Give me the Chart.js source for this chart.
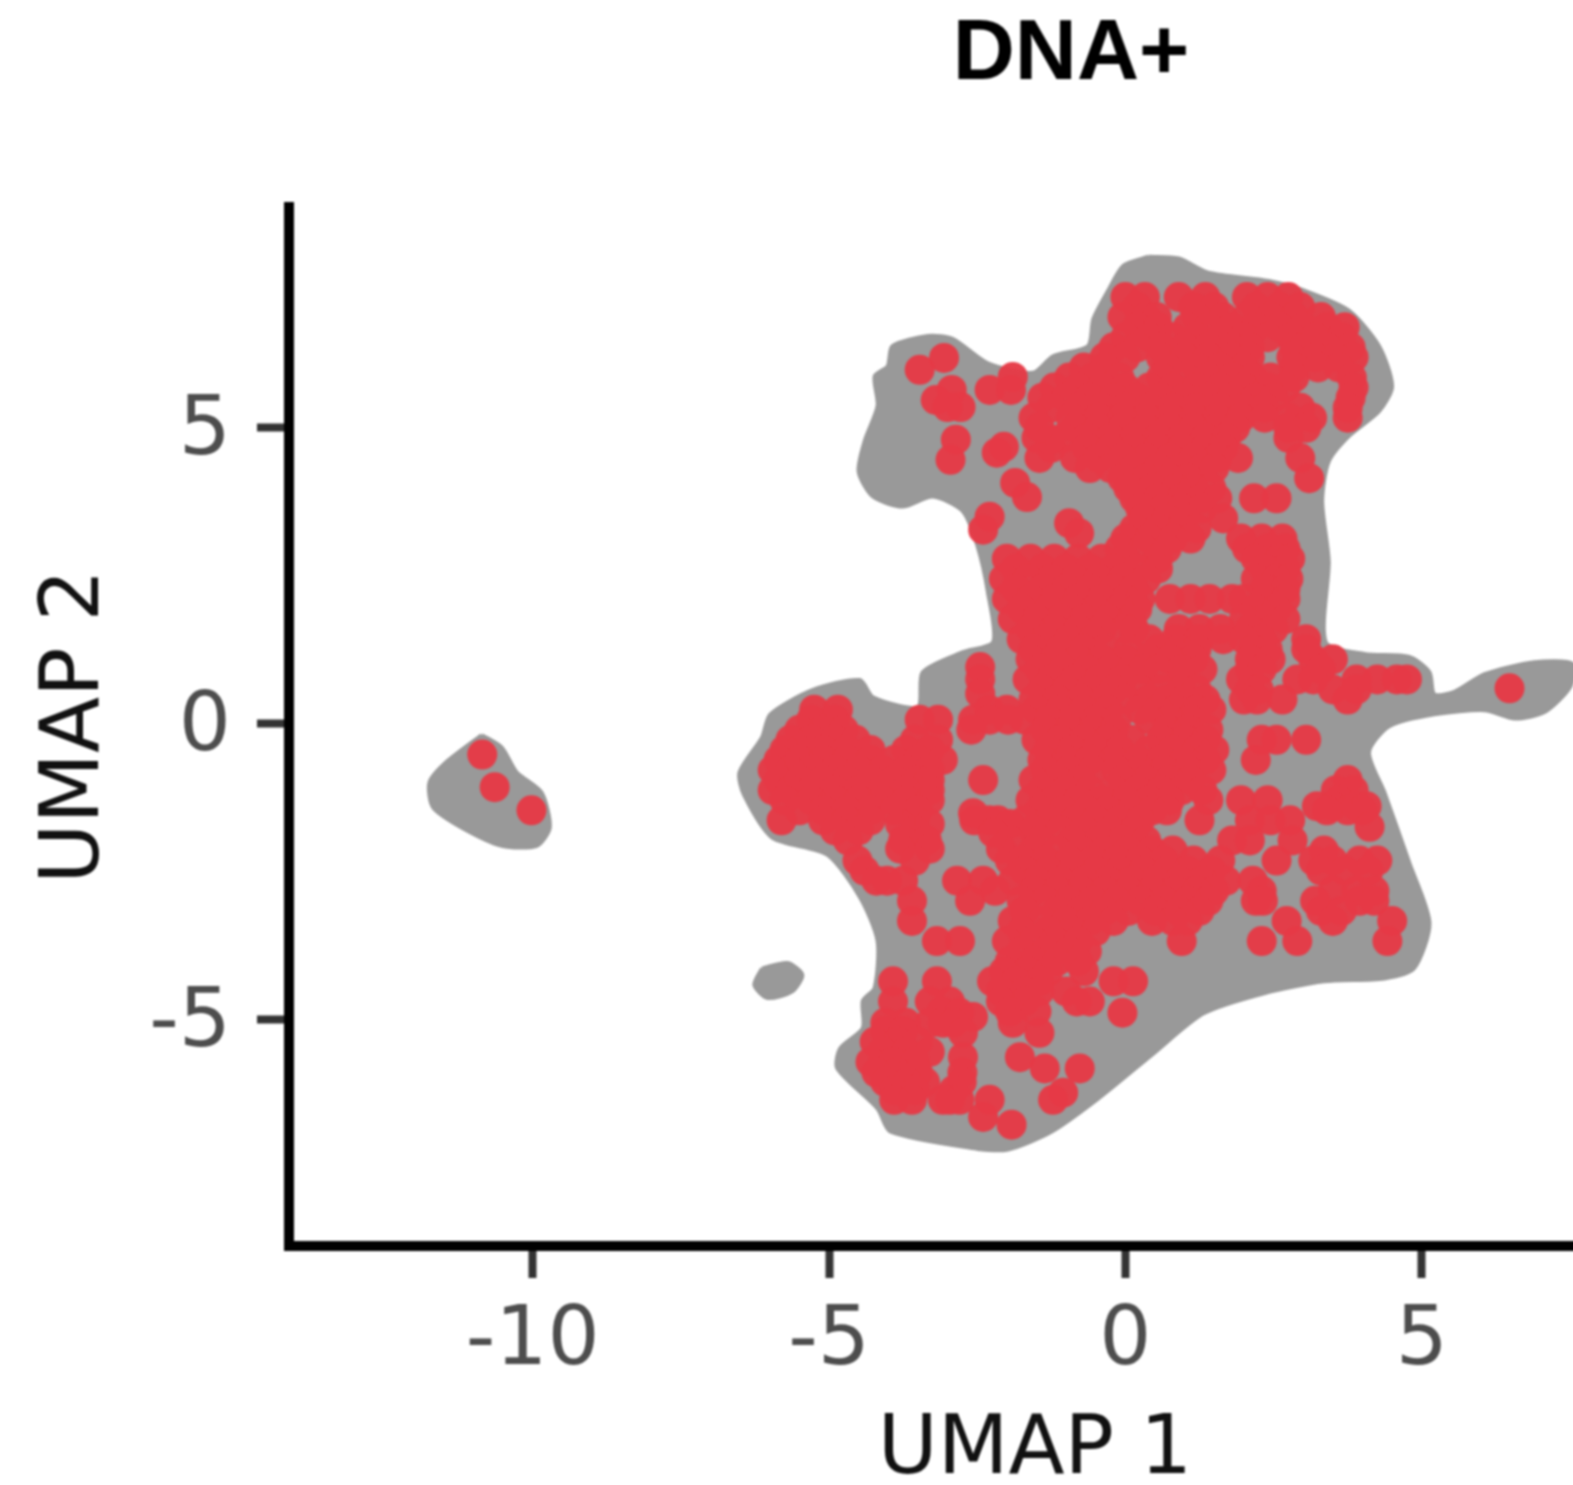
<!DOCTYPE html>
<html>
<head>
<meta charset="utf-8">
<title>DNA+</title>
<script src="https://cdn.jsdelivr.net/npm/chart.js@4"></script>
<style>
  html, body { margin: 0; background: #fff; overflow: hidden; }
  #crop { position: relative; width: 1573px; height: 1485px; overflow: hidden; }
  #chart { display: block; filter: blur(1.1px); }
</style>
</head>
<body>
<div id="crop"><canvas id="chart" width="2142" height="1485"></canvas></div>
<script>
// ─── Ticks ────────────────────────────────────────────────────
const xTicks = [-10, -5, 0, 5];
const yTicks = [-5, 0, 5];

// ─── Grey cells, outline of each island (UMAP units) ──────────
const greyMain = [[.39,7.88],[.9,7.85],[1.4,7.61],[2.42,7.47],[3.01,7.31],[3.77,6.97],[4.28,6.37],[4.5,5.69],[4.28,5.27],[3.77,4.85],[3.43,4.42],[3.32,3.75],[3.43,2.73],[3.38,1.37],[4.03,1.17],[4.79,1.12],[5.13,.86],[5.21,.49],[5.55,.53],[6.06,.83],[6.9,1.03],[7.55,1],[7.5,.61],[7.07,.19],[6.57,.08],[6.06,.22],[5.21,.15],[4.45,-.05],[4.11,-.49],[4.37,-1.17],[4.79,-2.36],[5.13,-3.37],[4.87,-4.14],[4.37,-4.31],[3.35,-4.36],[2.34,-4.56],[1.32,-4.9],[.47,-5.58],[-.46,-6.34],[-1.25,-6.9],[-1.98,-7.2],[-2.49,-7.19],[-3.96,-6.9],[-4.18,-6.51],[-4.86,-5.83],[-4.81,-5.49],[-4.43,-5.15],[-4.43,-4.69],[-4.23,-4.47],[-4.18,-3.68],[-4.47,-2.95],[-5.03,-2.22],[-5.96,-1.93],[-6.43,-1.22],[-6.51,-.83],[-6.13,-.24],[-5.99,.15],[-5.28,.56],[-4.48,.73],[-4.26,.44],[-3.5,.27],[-3.42,.86],[-2.74,1.2],[-2.23,1.37],[-2.32,2.22],[-2.49,2.98],[-2.74,3.58],[-3.25,3.83],[-3.76,3.66],[-4.26,3.83],[-4.5,4.25],[-4.4,4.76],[-4.18,5.36],[-4.23,5.86],[-4.01,6.03],[-3.93,6.37],[-3.33,6.54],[-2.91,6.49],[-2.32,6.08],[-1.56,5.92],[-1.22,6.2],[-.63,6.37],[-.54,6.83],[-.29,7.31],[-.03,7.73]];
const greyIsland = [[-10.86,-.2],[-10.52,-.41],[-10.27,-.83],[-9.85,-1.17],[-9.71,-1.76],[-9.93,-2.07],[-10.52,-2.07],[-11.2,-1.76],[-11.68,-1.42],[-11.74,-1],[-11.46,-.66]];
const greySpot = [[-6.13,-4.14],[-5.7,-4.05],[-5.45,-4.25],[-5.62,-4.53],[-6.04,-4.64],[-6.26,-4.42]];

// ─── DNA+ cells: rows of [y, [x, x, ...]] ─────────────────────
const redNorth = [
  [7.2, [0,.33,.9,1.35,2.05,2.4,2.75]],
  [7.03, [.2,1.15,1.5,2.2,2.6,2.95]],
  [6.86, [-.05,.35,.53,1.2,1.65,2.05,2.45,2.85,3.3]],
  [6.69, [.2,.55,1.05,1.4,1.8,2.2,2.6,3,3.4,3.7]],
  [6.52, [0,.4,.8,1.2,1.6,2,2.4,2.8,3.2,3.65]],
  [6.35, [-.2,.2,.6,1,1.4,1.8,2.1,2.85,3,3.4,3.8]],
  [6.18, [-.35,0,.6,1,1.4,1.8,2.1,2.8,3.2,3.55,3.85]],
  [6.01, [-.7,-.35,.7,1.2,1.6,2,2.85,3.25,3.6]],
  [5.84, [-.95,-.55,-.1,.6,1,1.4,1.8,2.15,2.45,2.85,3.82]],
  [5.67, [-1.2,-.8,-.4,0,.4,.8,1.2,1.6,2,2.4,2.7,3.85]],
  [5.5, [-1.4,-1,-.6,-.2,.2,.6,1,1.4,1.8,2.2,2.5,3.8]],
  [5.33, [-1.25,-.8,-.4,0,.4,.8,1.2,1.6,2,2.35,2.95,3.75]],
  [5.16, [-1.55,-.92,-.45,-.05,.35,.75,1.15,1.55,1.95,2.35,2.75,3.15,3.75]],
  [4.99, [-.85,-.45,-.05,.35,.75,1.15,1.55,1.85,2.75,3.05]],
  [4.82, [-1.5,-1.05,-.65,-.25,.15,.55,.95,1.35,1.7,2.75]],
  [4.65, [-1.25,-.65,-.25,.15,.55,.95,1.35,1.65]],
  [4.48, [-1.45,-.85,-.45,-.05,.35,.75,1.15,1.55,1.9,2.95]],
  [4.31, [-.6,-.25,.15,.55,.95,1.3,1.5]],
  [4.14, [-.05,.35,.75,1.05,3.1]],
  [3.97, [.05,.45,.85,1.15,1.45]],
  [3.8, [.15,.55,.95,1.3,1.55,2.17,2.55]],
  [3.63, [.25,.65,.95,1.3]],
  [3.46, [.3,.7,1,1.65]],
  [3.29, [.15,.55,.95,1.2]],
  [3.12, [0,.4,.8,1.1,1.95,2.3,2.65]],
  [2.95, [-.1,.3,.7,2.05,2.4,2.7]]
];
const redCentre = [
  [2.78, [-2,-1.6,-1.2,-.8,-.4,0,.55,2.2,2.6,2.78]],
  [2.61, [-1.85,-1.4,-1,-.6,-.2,.2,.55,2.35,2.7]],
  [2.44, [-2.05,-1.65,-1.25,-.85,-.45,-.05,.35,2.2,2.55,2.75]],
  [2.27, [-1.85,-1.4,-1,-.6,-.2,.15,2.35,2.7]],
  [2.1, [-2,-1.6,-1.2,-.8,-.4,0,.25,.75,1.1,1.42,1.8,2,2.35,2.7]],
  [1.93, [-1.75,-1.3,-.9,-.5,-.1,.2,2.2,2.55]],
  [1.76, [-1.9,-1.5,-1.1,-.7,-.3,.1,2,2.35,2.7]],
  [1.59, [-1.6,-1.2,-.8,-.4,0,.15,.9,1.25,1.6,2.1,2.5]],
  [1.42, [-1.75,-1.35,-.95,-.55,.4,.85,1.25,1.65,2,2.3,3.05]],
  [1.25, [-1.55,-1.1,-.7,-.35,.05,.55,.9,1.2,2.15,2.4,3.05]],
  [1.08, [-1.6,-1.2,-.8,-.4,0,.4,.75,1.15,2.1,2.45,3.17,3.5]],
  [.95, [-2.45]],
  [.91, [-1.45,-1.05,-.65,-.25,.1,.3,.55,.95,1.3,2.1,2.3,3.3]],
  [.74, [-2.45,-1.65,-1.25,-.85,-.45,-.05,.95,1.95,2.9,3.17,3.9,4.25,4.58,4.75]],
  [.57, [-1.4,-1,-.6,-.2,.25,.6,.95,1.2,2.1,2.25,3.5,3.9]],
  [.5, [-2.45]],
  [.4, [-1.55,-1.15,-.75,-.35,0,.4,.7,1,1.35,2,2.22,2.65,3.75]],
  [.23, [-5.25,-4.85,-2.3,-2,-1.5,-1.1,-.7,-.3,.25,.55,.85,1.2,1.45]],
  [.06, [-5.3,-4.9,-3.47,-3.16,-2.57,-2.29,-1.98,-1.7,-1.3,-.9,-.5,-.15,.4,.75,1.1]],
  [-.11, [-5.5,-5.1,-4.75,-2.6,-1.35,-.95,-.55,-.2,.7,1.05,1.4]],
  [-.28, [-5.65,-5.3,-4.9,-4.55,-3.55,-3.16,-1.5,-1.1,-.7,-.3,.1,.6,1,1.35,2.3,2.55,3.05]],
  [-.45, [-5.75,-5.5,-5.1,-4.7,-4.3,-3.7,-3.3,-1.3,-.9,-.5,-.1,.4,.8,1.2,1.5]],
  [-.62, [-5.85,-5.5,-5.1,-4.7,-4.3,-3.9,-3.5,-3.08,-1.4,-1,-.6,-.2,.2,.6,1,1.35,2.2]],
  [-.79, [-5.95,-5.65,-5.3,-4.9,-4.5,-4.1,-3.7,-3.3,-1.35,-.95,-.55,-.15,.25,.65,1.05,1.45]],
  [-.96, [-5.85,-5.5,-5.1,-4.7,-4.3,-3.9,-3.5,-3.3,-2.4,-1.55,-1.15,-.75,-.05,.35,.75,1.1,3.75]],
  [-1.13, [-5.95,-5.65,-5.3,-4.9,-4.5,-4.1,-3.7,-3.3,-1.4,-1,-.6,-.2,.2,.6,.95,1.3,3.55,3.85]],
  [-1.3, [-5.75,-5.3,-4.9,-4.5,-4.1,-3.7,-3.3,-1.6,-1.2,-.8,-.4,0,.4,.75,1.4,1.95,2.4,3.6]],
  [-1.4, [3.23,3.5,3.9,4.07]],
  [-1.47, [-5.5,-5.1,-4.7,-4.3,-3.9,-3.5,-1.45,-1.05,-.65,-.3,.1,.45,.7,3.4,3.75,4]],
  [-1.64, [-5.8,-5.1,-4.7,-4.3,-3.55,-2.55,-2.3,-2.15,-1.7,-1.3,-.85,-.5,-.1,.25,1.25,2.1,2.45,2.78]]
];
const redSouth = [
  [-1.7, [-3.8,-3.3,-1.95]],
  [-1.75, [4.12]],
  [-1.81, [-4.9,-4.5,-3.55,-1.55,-1.1,-.7,-.25,.15]],
  [-1.98, [-4.68,-3.75,-3.35,-1.95,-1.45,-.9,-.45,-.05,.35,1.8,2.1,2.82]],
  [-2.12, [-3.8,-3.3,-2.1]],
  [-2.15, [-1.55,-1.15,-.75,-.35,.05,.45,.8,3.35]],
  [-2.32, [-4.52,-3.55,-1.95,-1.75,-1.35,-.95,-.55,-.15,.25,.65,1.15,1.6,2.55,3.17,3.5,3.95,4.25]],
  [-2.49, [-4.4,-1.7,-1.3,-.9,-.5,-.1,.3,.7,1.05,1.45,3.3,3.7,4.1]],
  [-2.66, [-4.2,-4.02,-3.75,-2.84,-2.4,-1.9,-1.5,-1.1,-.7,-.3,.1,.5,.9,1.3,1.7,2.15]],
  [-2.83, [-2.2,-1.55,-1.15,-.75,-.35,.05,.45,.85,1.2,1.5,2.3,3.5,3.9,4.2]],
  [-3, [-3.6,-2.62,-1.75,-1.35,-.95,-.55,-.15,.25,.65,1.05,1.4,2.2,2.32,3.2,3.95,4.2]],
  [-3.17, [-1.7,-1.15,-.75,-.35,.05,.5,.9,1.25,3.3,3.65]],
  [-3.34, [-3.6,-1.9,-1.4,-1,-.6,-.2,.45,.8,1.05,2.72,3.5,4.5]],
  [-3.51, [-1.75,-1.3,-.9,-.5]],
  [-3.68, [-3.18,-2.79,-2,-1.55,-1.2,-.8,.95,2.3,2.9,4.42]],
  [-3.85, [-1.75,-1.35,-.95,-.65]],
  [-4.02, [-1.95,-1.55,-1.15,-.8]],
  [-4.19, [-2.05,-1.65,-1.3,-.7]],
  [-4.36, [-3.92,-3.18,-2.25,-1.85,-1.45,-.2,.13]],
  [-4.53, [-2.1,-1.7,-1.45,-1]],
  [-4.7, [-3.92,-3.3,-2.96,-2.1,-1.7,-.82,-.6]],
  [-4.87, [-3.1,-1.95,-1.5]]
];
const redSouthWest = [
  [-4.89, [-2.8,-.05]],
  [-4.96, [-2.57]],
  [-5.06, [-4.05,-3.7,-3.3,-3.08,-2.9,-1.9]],
  [-5.2, [-4.05,-3.75]],
  [-5.23, [-2.74,-1.45]],
  [-5.38, [-4.23,-3.84,-3.5]],
  [-5.55, [-4.1,-3.7,-3.3]],
  [-5.64, [-2.74,-1.78]],
  [-5.72, [-4.3,-3.92,-3.55]],
  [-5.83, [-1.36,-.77]],
  [-5.9, [-4.2,-3.85,-3.5,-2.75]],
  [-6.06, [-4.05,-3.67,-3.38,-2.76]],
  [-6.2, [-3.9,-3.55,-2.9]],
  [-6.24, [-1.05]],
  [-6.36, [-3.9,-3.6,-2.96,-2.8,-3.08,-2.29,-1.22]],
  [-6.65, [-2.4]],
  [-6.78, [-1.92]]
];
const redNorthWest = [
  [6.17, [-3.06]],
  [5.97, [-3.47]],
  [5.85, [-1.9]],
  [5.63, [-2.93,-2.29,-1.93]],
  [5.46, [-3.2]],
  [5.34, [-2.78,-3]],
  [5, [-1.45]],
  [4.79, [-2.86,-1.27]],
  [4.67, [-2.05]],
  [4.57, [-2.17]],
  [4.45, [-2.95]],
  [4.06, [-1.86]],
  [3.82, [-1.66]],
  [3.49, [-2.29]],
  [3.38, [-.95]],
  [3.27, [-2.4]],
  [3.21, [-.78]]
];
const redOutliers = [
  [.59, [6.48]],
  [-.53, [-10.85]],
  [-1.08, [-10.64]],
  [-1.47, [-10.02]],
  [-1.52, [-2.57]],
  [-1.85, [-2.23]]
];

const redRows = [...redNorth, ...redCentre, ...redSouth, ...redSouthWest, ...redNorthWest, ...redOutliers];
const redPoints = redRows.flatMap(([y, xs]) => xs.map(x => ({ x, y })));

const toPoints = list => [...list, list[0]].map(([x, y]) => ({ x, y }));
const greyDataset = list => ({
  type: "scatter", data: toPoints(list), showLine: true, fill: "shape", tension: 0.25,
  backgroundColor: "#999999", borderColor: "#999999", borderWidth: 4, borderJoinStyle: "round",
  pointRadius: 0, order: 2
});

const axisFont = { family: "'DejaVu Sans'", size: 82 };

// title sits right of the page centre in the reference
const shiftTitle = {
  id: "shiftTitle",
  afterLayout(chart) { chart.titleBlock.left = 361; }
};

new Chart(document.getElementById("chart"), {
  type: "scatter",
  plugins: [shiftTitle],
  data: {
    datasets: [
      { data: redPoints, backgroundColor: "rgba(230,57,70,0.96)", borderWidth: 0, pointRadius: 15, order: 1 },
      greyDataset(greyMain),
      greyDataset(greyIsland),
      greyDataset(greySpot)
    ]
  },
  options: {
    responsive: false,
    animation: false,
    layout: { padding: { right: 361 } },
    plugins: {
      legend: { display: false },
      tooltip: { enabled: false },
      title: {
        display: true, text: "DNA+", color: "#000",
        font: { family: "'Liberation Sans'", size: 86, weight: "bold", lineHeight: 1.2 },
        padding: { top: 4, bottom: 99.8 }
      }
    },
    scales: {
      x: {
        type: "linear", min: -14.11, max: 11.06,
        afterBuildTicks: s => { s.ticks = xTicks.map(value => ({ value })); },
        afterFit: s => { s.height = 239; },
        border: { color: "#000", width: 10 },
        grid: { drawOnChartArea: false, tickLength: 32, tickWidth: 8, tickColor: "#333" },
        ticks: { color: "#4d4d4d", font: axisFont, padding: 16, maxRotation: 0 },
        title: { display: true, text: "UMAP 1", color: "#111", font: { ...axisFont, lineHeight: 0.8 }, padding: { top: 0, bottom: 0 } }
      },
      y: {
        type: "linear", min: -8.83, max: 8.72,
        afterBuildTicks: s => { s.ticks = yTicks.map(value => ({ value })); },
        afterFit: s => { s.width = 289; },
        border: { color: "#000", width: 10 },
        grid: { drawOnChartArea: false, tickLength: 32, tickWidth: 8, tickColor: "#333" },
        ticks: { color: "#4d4d4d", font: axisFont, padding: 26, labelOffset: 5 },
        title: { display: true, text: "UMAP 2", color: "#111", font: { ...axisFont, lineHeight: 1.2 }, padding: { top: 28, bottom: 0 } }
      }
    }
  }
});
</script>
</body>
</html>
